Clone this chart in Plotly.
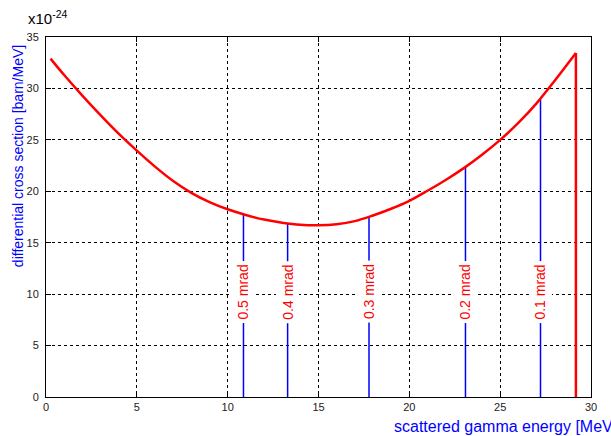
import plotly.graph_objects as go

# Red curve: differential cross section (units of 1e-24 barn/MeV) vs scattered gamma energy (MeV)
energy = [0.25, 1, 2, 3, 4, 5, 6, 7, 8, 9, 10, 11, 12, 13, 14, 15, 16, 17, 18, 19,
          20, 21, 22, 23, 24, 25, 26, 27, 28, 29, 29.17]
xsec = [32.9, 31.3, 29.3, 27.4, 25.6, 23.95, 22.4, 21.0, 19.85, 18.95, 18.25, 17.7,
        17.25, 16.95, 16.75, 16.7, 16.8, 17.1, 17.65, 18.3, 19.07, 20.05, 21.1, 22.25,
        23.55, 25.0, 26.65, 28.55, 30.75, 33.05, 33.45]

# Angle markers (mrad): energy position and curve height
angle_labels = ["0.5 mrad", "0.4 mrad", "0.3 mrad", "0.2 mrad", "0.1 mrad"]
angle_energy = [10.87, 13.3, 17.78, 23.09, 27.22]
angle_top = [17.76, 16.85, 17.54, 22.37, 28.97]
label_y = 10.2

edge_energy = 29.17
edge_top = 33.45

x_ticks = [0, 5, 10, 15, 20, 25, 30]
y_ticks = [0, 5, 10, 15, 20, 25, 30, 35]

font_family = "Liberation Sans, Arial, sans-serif"

fig = go.Figure()

for xe, yt in zip(angle_energy, angle_top):
    fig.add_trace(go.Scatter(x=[xe, xe], y=[0, yt], mode="lines",
                             line=dict(color="#0000ff", width=1.5),
                             hoverinfo="skip", showlegend=False))

fig.add_trace(go.Scatter(x=energy, y=xsec, mode="lines",
                         line=dict(color="#ff0000", width=2.5, shape="spline", smoothing=1.0),
                         showlegend=False))
fig.add_trace(go.Scatter(x=[edge_energy, edge_energy], y=[edge_top, 0], mode="lines",
                         line=dict(color="#ff0000", width=2.5), showlegend=False))

for lab, xe in zip(angle_labels, angle_energy):
    fig.add_annotation(x=xe, y=label_y, xref="x", yref="y", text=lab, textangle=-90,
                       showarrow=False, bgcolor="white", borderpad=3,
                       font=dict(color="#ff0000", size=14, family=font_family))

fig.add_annotation(x=-0.0514, y=0.669, xref="paper", yref="paper",
                   text="differential cross section [barn/MeV]", textangle=-90,
                   showarrow=False, xanchor="center", yanchor="middle",
                   font=dict(color="#0000ff", size=14, family=font_family))
fig.add_annotation(x=0.635, y=-0.0833, xref="paper", yref="paper",
                   text="scattered gamma energy [MeV]", showarrow=False,
                   xanchor="left", yanchor="middle",
                   font=dict(color="#0000ff", size=16, family=font_family))
fig.add_annotation(x=-0.0367, y=1.055, xref="paper", yref="paper",
                   text="x10<sup>-24</sup>", showarrow=False,
                   xanchor="left", yanchor="middle",
                   font=dict(color="#000000", size=15, family=font_family))

axis_common = dict(showline=True, linecolor="black", linewidth=1, mirror="ticks",
                   ticks="inside", ticklen=5, tickcolor="black",
                   showgrid=True, gridcolor="black", gridwidth=1, griddash="dot",
                   zeroline=False,
                   tickfont=dict(size=11, color="#222222", family=font_family))

fig.update_xaxes(range=[0, 30], tickvals=x_ticks, **axis_common)
fig.update_yaxes(range=[0, 35], tickvals=y_ticks, ticklabelstandoff=4, **axis_common)

fig.update_layout(width=611, height=436,
                  margin=dict(l=46, r=20, t=37, b=39),
                  plot_bgcolor="white", paper_bgcolor="white",
                  font=dict(family=font_family))

fig.write_html("out.html", config={"displayModeBar": False},
               post_script="document.body.style.margin='0';")
